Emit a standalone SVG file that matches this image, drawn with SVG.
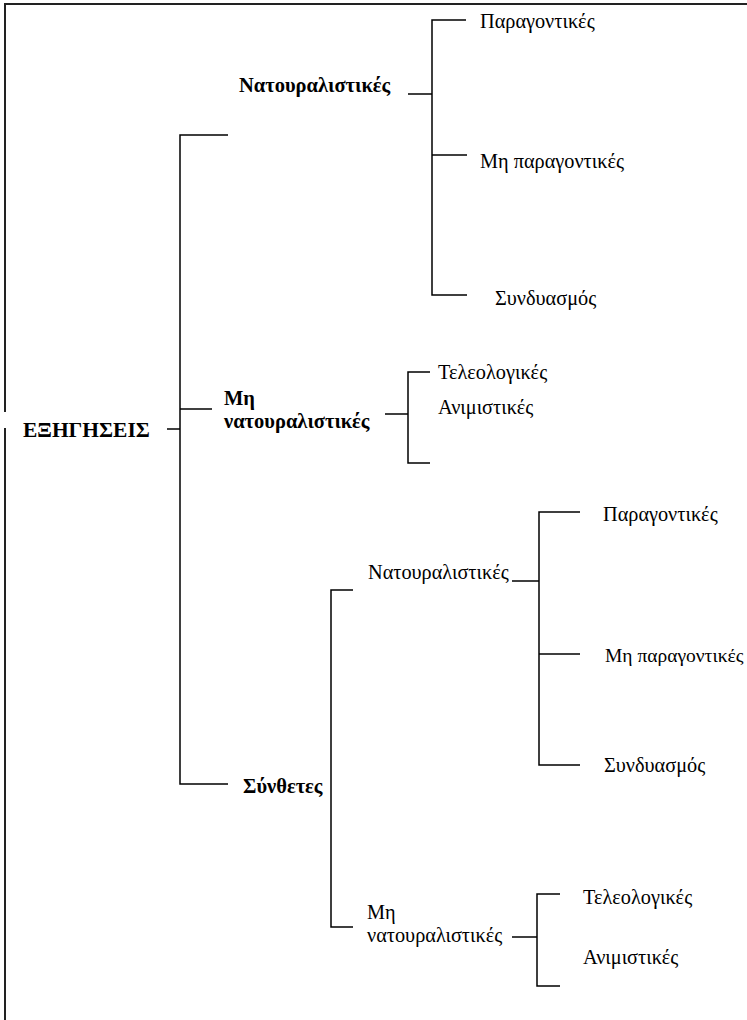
<svg xmlns="http://www.w3.org/2000/svg" width="747" height="1020" viewBox="0 0 747 1020">
<style>
text{font-family:"Liberation Serif","Times New Roman",serif;font-size:20.3px;fill:#000}
.b{font-weight:bold;font-size:20.5px}
.r{font-size:21.5px}
.s{font-size:19.5px}
.c{fill:none;stroke:#000;stroke-width:1.5}
.frame{fill:none;stroke:#222;stroke-width:2}
</style>
<rect width="747" height="1020" fill="#fff"/>
<path class="frame" d="M5,1020 V428 M5,412 V4 H747"/>
<g id="connectors">
<path class="c" d="M167,429 H180"/>
<path class="c" d="M228,135 H180 V784 H228"/>
<path class="c" d="M180,409 H212"/>
<path class="c" d="M408,94 H432"/>
<path class="c" d="M466,20 H432 V295 H467"/>
<path class="c" d="M432,155 H467"/>
<path class="c" d="M385,414 H408"/>
<path class="c" d="M430,372 H408 V463 H430"/>
<path class="c" d="M353,590 H331 V927 H353"/>
<path class="c" d="M512,581 H539"/>
<path class="c" d="M580,512 H539 V765 H580"/>
<path class="c" d="M539,654 H580"/>
<path class="c" d="M512,937 H537"/>
<path class="c" d="M560,894 H537 V986 H560"/>
</g>
<g id="root"><text class="b r" x="23" y="437">ΕΞΗΓΗΣΕΙΣ</text></g>
<g id="nat"><text class="b" x="239" y="92">Νατουραλιστικές</text></g>
<g id="nat-par"><text x="480" y="28">Παραγοντικές</text></g>
<g id="nat-mipar"><text x="480" y="168">Μη παραγοντικές</text></g>
<g id="nat-syn"><text x="495" y="305">Συνδυασμός</text></g>
<g id="minat"><text class="b" x="224" y="405">Μη</text><text class="b" x="224" y="428">νατουραλιστικές</text></g>
<g id="minat-tel"><text x="438" y="379">Τελεολογικές</text></g>
<g id="minat-ani"><text x="438" y="414">Ανιμιστικές</text></g>
<g id="synth"><text class="b" x="243" y="793">Σύνθετες</text></g>
<g id="s-nat"><text x="368" y="579">Νατουραλιστικές</text></g>
<g id="s-nat-par"><text x="603" y="521">Παραγοντικές</text></g>
<g id="s-nat-mipar"><text class="s" x="605" y="662">Μη παραγοντικές</text></g>
<g id="s-nat-syn"><text x="604" y="772">Συνδυασμός</text></g>
<g id="s-minat"><text x="367" y="919">Μη</text><text x="367" y="942">νατουραλιστικές</text></g>
<g id="s-minat-tel"><text x="583" y="904">Τελεολογικές</text></g>
<g id="s-minat-ani"><text x="583" y="964">Ανιμιστικές</text></g>
</svg>
